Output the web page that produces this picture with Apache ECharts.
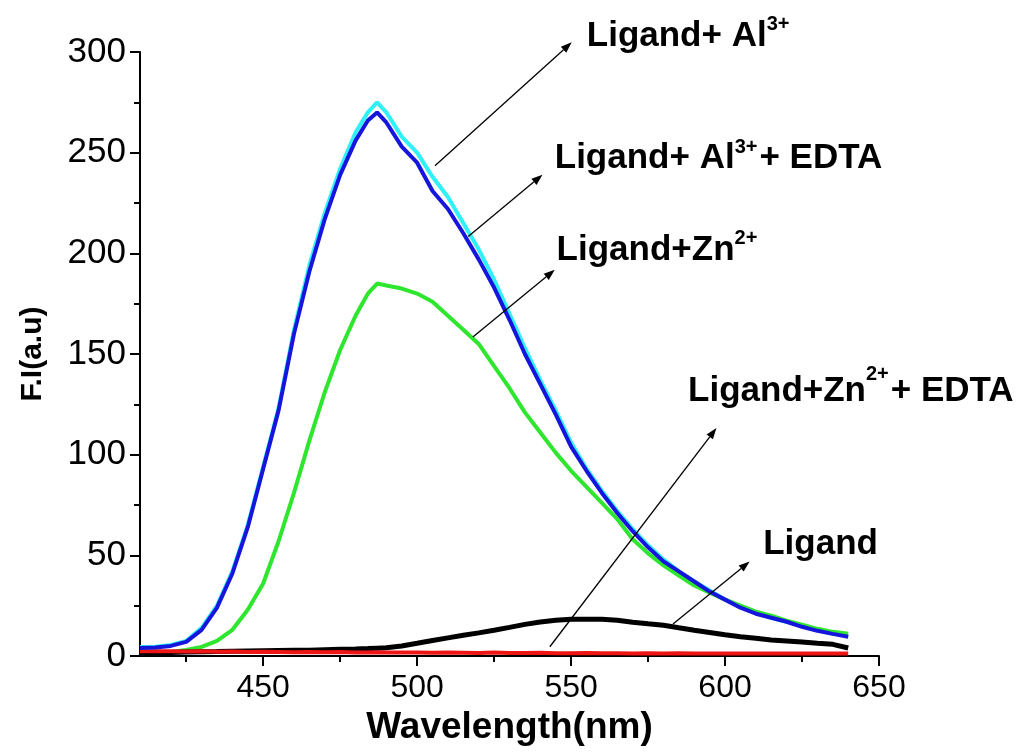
<!DOCTYPE html>
<html>
<head>
<meta charset="utf-8">
<script src="https://cdn.jsdelivr.net/npm/echarts@6/dist/echarts.min.js"></script>
<style>
  html, body { margin: 0; padding: 0; background: #ffffff; }
  #chart { width: 1023px; height: 753px; }
</style>
</head>
<body>
<div id="chart"></div>
<script>
// Emission wavelengths (nm) shared by all spectra
const wavelength = [410, 415, 420, 425, 430, 435, 440, 445, 450, 455, 460, 465, 470, 475, 480, 484, 487,
  490, 495, 500, 505, 510, 515, 520, 525, 530, 535, 540, 545, 550, 555, 560, 565, 570, 575, 580,
  585, 590, 595, 600, 605, 610, 615, 620, 625, 630, 635, 640];

// Fluorescence intensity (a.u.)
const ligandAl = [4.5, 4.6, 5.5, 7.5, 14, 25, 42, 65, 94, 123, 162, 194, 220, 242, 260, 270, 275,
  270, 258, 250, 238, 228, 215, 202, 187, 170, 153, 137, 122, 106, 93, 82, 72, 63, 55, 48,
  42, 37, 32.5, 28, 24.5, 21.5, 19, 17, 15, 13, 11, 10];
const ligandAlEdta = [4, 4.2, 5, 7, 13, 24, 41, 64, 93, 122, 160, 191, 217, 239, 256, 266, 270,
  265, 253, 245, 231, 222, 210, 197, 183, 167, 150, 135, 120, 104, 92, 81, 71, 62, 54, 47,
  42, 37, 32, 28, 24, 21, 19, 17, 14.5, 12.5, 11, 9.6];
const ligandZn = [1.5, 1.7, 2, 3, 4.5, 7.5, 13, 23, 36, 57, 81, 107, 131, 152, 169, 180, 185,
  184, 182.5, 180, 176, 169, 162, 155, 144, 133, 121, 111, 101, 92, 84, 76, 68, 58, 51, 45,
  40, 35, 31.5, 28, 25, 22, 20, 17.5, 15.5, 13.5, 12, 11];
const ligandOnly = [1.4, 1.6, 1.8, 2, 2.1, 2.2, 2.4, 2.5, 2.6, 2.7, 2.8, 2.9, 3.1, 3.3, 3.5, 3.7, 3.9,
  4.1, 5, 6.3, 7.7, 9, 10.3, 11.5, 12.8, 14.2, 15.7, 16.9, 17.8, 18.2, 18.3, 18.2, 17.8, 16.8, 16, 15.3,
  14, 12.8, 11.7, 10.6, 9.6, 8.8, 8, 7.5, 6.9, 6.3, 5.8, 4];
const ligandZnEdta = [2.4, 2.3, 2.4, 2.2, 2.3, 2.1, 2.2, 2.0, 2.1, 2.0, 1.9, 2.0, 1.9, 2.0, 1.8, 1.8, 1.9,
  1.8, 1.7, 1.8, 1.6, 1.7, 1.6, 1.5, 1.7, 1.5, 1.5, 1.6, 1.4, 1.4, 1.5, 1.4, 1.4, 1.3, 1.4, 1.3,
  1.4, 1.3, 1.3, 1.2, 1.3, 1.2, 1.3, 1.2, 1.3, 1.2, 1.2, 1.2];

// Axis tick values
const xMajorTicks = [450, 500, 550, 600, 650];
const xMinorTicks = [425, 475, 525, 575, 625];

const FONT = '"Liberation Sans", Arial, Helvetica, sans-serif';

function pairs(values) {
  return wavelength.map((w, i) => [w, values[i]]);
}

function spectrum(name, values, color, width) {
  return {
    name: name,
    type: 'line',
    data: pairs(values),
    showSymbol: false,
    symbol: 'none',
    smooth: false,
    lineStyle: { color: color, width: width },
    itemStyle: { color: color },
    animation: false
  };
}

const chart = echarts.init(document.getElementById('chart'), null, { renderer: 'canvas' });

chart.setOption({
  backgroundColor: '#ffffff',
  animation: false,
  grid: { left: 140, right: 144, top: 52, bottom: 97, containLabel: false, outerBoundsMode: 'none' },
  xAxis: [
    {
      type: 'value', min: 410, max: 650,
      name: 'Wavelength(nm)', nameLocation: 'middle', nameGap: 40,
      nameTextStyle: { color: '#000', fontSize: 37, fontWeight: 'bold', fontFamily: FONT },
      axisLine: { show: true, onZero: false, lineStyle: { color: '#000', width: 2 } },
      axisTick: { show: true, customValues: xMajorTicks, length: 10, lineStyle: { color: '#000', width: 2 } },
      axisLabel: { show: true, customValues: xMajorTicks, color: '#000', fontSize: 32, fontFamily: FONT, margin: 16 },
      splitLine: { show: false }
    },
    {
      type: 'value', min: 410, max: 650, position: 'bottom',
      axisLine: { show: false },
      axisTick: { show: true, customValues: xMinorTicks, length: 6, lineStyle: { color: '#000', width: 2 } },
      axisLabel: { show: false },
      splitLine: { show: false }
    }
  ],
  yAxis: {
    type: 'value', min: 0, max: 300, interval: 50,
    name: 'F.I(a.u)', nameLocation: 'middle', nameGap: 92, nameRotate: 90,
    nameTextStyle: { color: '#000', fontSize: 30, fontWeight: 'bold', fontFamily: FONT },
    axisLine: { show: true, onZero: false, lineStyle: { color: '#000', width: 2 } },
    axisTick: { show: true, length: 10, lineStyle: { color: '#000', width: 2 } },
    minorTick: { show: true, splitNumber: 2, length: 6, lineStyle: { color: '#000', width: 2 } },
    axisLabel: { color: '#000', fontSize: 35, fontFamily: FONT, margin: 14 },
    splitLine: { show: false },
    minorSplitLine: { show: false }
  },
  series: [
    spectrum('Ligand+ Al3+', ligandAl, '#30F0F8', 4),
    spectrum('Ligand+Zn2+', ligandZn, '#2EE62E', 4),
    spectrum('Ligand', ligandOnly, '#000000', 5),
    spectrum('Ligand+Zn2+ + EDTA', ligandZnEdta, '#EE1515', 4),
    spectrum('Ligand+ Al3+ + EDTA', ligandAlEdta, '#1515DD', 4)
  ]
});

// Callout labels with arrows, anchored in wavelength / intensity coordinates
const callouts = [
  { parts: [['Ligand+ Al', 0], ['3+', 1]], at: [555.1, 307.9], rise: 12, from: [505.8, 243.5], to: [550.2, 304.8] },
  { parts: [['Ligand+ Al', 0], ['3+', 1], ['+ EDTA', 0]], at: [544.7, 247.0], rise: 11, from: [516.6, 208.4], to: [540.7, 239.0] },
  { parts: [['Ligand+Zn', 0], ['2+', 1]], at: [545.3, 201.3], rise: 12, from: [518.1, 158.5], to: [544.7, 191.8] },
  { parts: [['Ligand+Zn', 0], ['2+', 1], ['+ EDTA', 0]], at: [588.0, 131.4], rise: 17, from: [543.1, 4.6], to: [597.2, 113.2] },
  { parts: [['Ligand', 0]], at: [612.4, 55.7], rise: 12, from: [583.1, 15.9], to: [608.0, 46.9] }
];

const MAIN_SIZE = 35;
const SUP_SIZE = 20;
const measureCtx = document.createElement('canvas').getContext('2d');
function textWidth(t, size) {
  measureCtx.font = 'bold ' + size + 'px ' + FONT;
  return measureCtx.measureText(t).width;
}

function arrow(p0, p1) {
  const dx = p1[0] - p0[0], dy = p1[1] - p0[1];
  const len = Math.hypot(dx, dy);
  const ux = dx / len, uy = dy / len;
  const headLen = 11, headHalf = 4;
  const bx = p1[0] - ux * headLen, by = p1[1] - uy * headLen;
  return [
    { type: 'line', silent: true, z: 100,
      shape: { x1: p0[0], y1: p0[1], x2: bx, y2: by },
      style: { stroke: '#000', lineWidth: 1.3 } },
    { type: 'polygon', silent: true, z: 100,
      shape: { points: [[p1[0], p1[1]], [bx - uy * headHalf, by + ux * headHalf], [bx + uy * headHalf, by - ux * headHalf]] },
      style: { fill: '#000' } }
  ];
}

const graphics = [];
callouts.forEach(c => {
  const p0 = chart.convertToPixel({ gridIndex: 0 }, c.from);
  const p1 = chart.convertToPixel({ gridIndex: 0 }, c.to);
  arrow(p0, p1).forEach(g => graphics.push(g));
  const anchor = chart.convertToPixel({ gridIndex: 0 }, c.at);
  let x = anchor[0];
  c.parts.forEach(([t, sup]) => {
    const size = sup ? SUP_SIZE : MAIN_SIZE;
    const y = sup ? anchor[1] - c.rise : anchor[1];
    graphics.push({
      type: 'text', silent: true, z: 100, x: x, y: y,
      style: {
        text: t, fill: '#000', font: 'bold ' + size + 'px ' + FONT,
        align: 'left', verticalAlign: 'middle', textAlign: 'left', textVerticalAlign: 'middle'
      }
    });
    x += textWidth(t, size) + (sup ? 2 : 0);
  });
});

chart.setOption({ graphic: graphics });
</script>
</body>
</html>
